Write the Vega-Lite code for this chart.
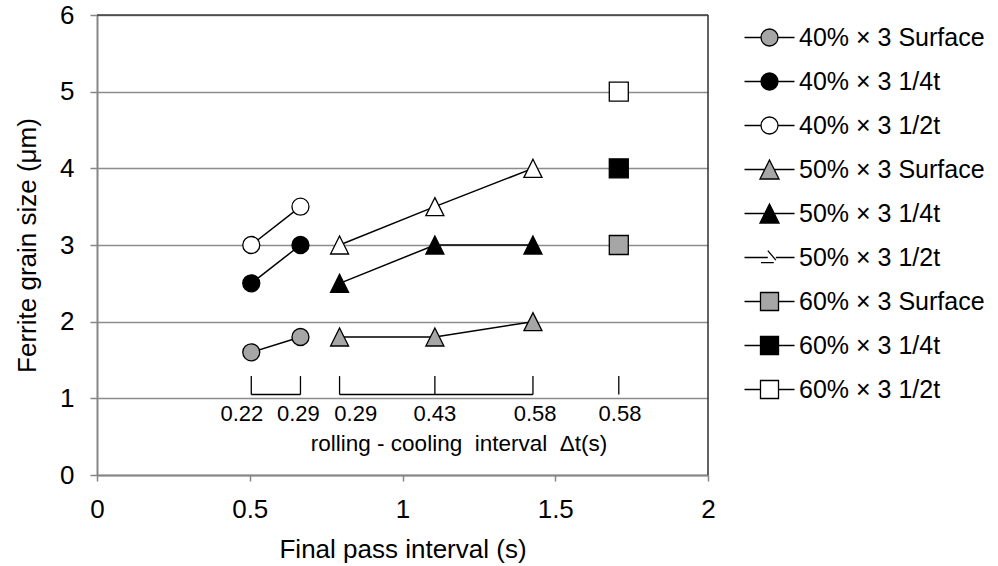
{
  "$schema": "https://vega.github.io/schema/vega-lite/v6.json",
  "width": 611,
  "height": 460,
  "autosize": {"type": "none"},
  "padding": {"left": 97, "top": 15, "right": 290, "bottom": 91},
  "background": "white",
  "config": {
    "font": "Liberation Sans",
    "view": {"stroke": null},
    "text": {"font": "Liberation Sans", "color": "black"}
  },
  "datasets": {
    "grain": [
      {"series": "40% × 3 Surface", "reduction": "40%", "position": "Surface", "interval": 0.505, "size": 1.6},
      {"series": "40% × 3 Surface", "reduction": "40%", "position": "Surface", "interval": 0.666, "size": 1.8},
      {"series": "40% × 3 1/4t", "reduction": "40%", "position": "1/4t", "interval": 0.505, "size": 2.5},
      {"series": "40% × 3 1/4t", "reduction": "40%", "position": "1/4t", "interval": 0.666, "size": 3.0},
      {"series": "40% × 3 1/2t", "reduction": "40%", "position": "1/2t", "interval": 0.505, "size": 3.0},
      {"series": "40% × 3 1/2t", "reduction": "40%", "position": "1/2t", "interval": 0.666, "size": 3.5},
      {"series": "50% × 3 Surface", "reduction": "50%", "position": "Surface", "interval": 0.794, "size": 1.8},
      {"series": "50% × 3 Surface", "reduction": "50%", "position": "Surface", "interval": 1.106, "size": 1.8},
      {"series": "50% × 3 Surface", "reduction": "50%", "position": "Surface", "interval": 1.427, "size": 2.0},
      {"series": "50% × 3 1/4t", "reduction": "50%", "position": "1/4t", "interval": 0.794, "size": 2.5},
      {"series": "50% × 3 1/4t", "reduction": "50%", "position": "1/4t", "interval": 1.106, "size": 3.0},
      {"series": "50% × 3 1/4t", "reduction": "50%", "position": "1/4t", "interval": 1.427, "size": 3.0},
      {"series": "50% × 3 1/2t", "reduction": "50%", "position": "1/2t", "interval": 0.794, "size": 3.0},
      {"series": "50% × 3 1/2t", "reduction": "50%", "position": "1/2t", "interval": 1.106, "size": 3.5},
      {"series": "50% × 3 1/2t", "reduction": "50%", "position": "1/2t", "interval": 1.427, "size": 4.0},
      {"series": "60% × 3 Surface", "reduction": "60%", "position": "Surface", "interval": 1.708, "size": 3.0},
      {"series": "60% × 3 1/4t", "reduction": "60%", "position": "1/4t", "interval": 1.708, "size": 4.0},
      {"series": "60% × 3 1/2t", "reduction": "60%", "position": "1/2t", "interval": 1.708, "size": 5.0}
    ],
    "cooling": [
      {"interval": 0.505, "dt": "0.22", "labelAt": 0.474},
      {"interval": 0.666, "dt": "0.29", "labelAt": 0.659},
      {"interval": 0.794, "dt": "0.29", "labelAt": 0.847},
      {"interval": 1.106, "dt": "0.43", "labelAt": 1.106},
      {"interval": 1.427, "dt": "0.58", "labelAt": 1.434},
      {"interval": 1.708, "dt": "0.58", "labelAt": 1.712}
    ],
    "spans": [
      {"from": 0.505, "to": 0.666},
      {"from": 0.794, "to": 1.427}
    ]
  },
  "resolve": {"scale": {"fill": "independent", "shape": "independent", "size": "independent"}},
  "layer": [
    {
      "data": {"name": "grain"},
      "mark": {"type": "line", "color": "black", "strokeWidth": 1.5},
      "encoding": {
        "x": {
          "field": "interval", "type": "quantitative",
          "scale": {"domain": [0, 2], "nice": false, "zero": false},
          "axis": {
            "title": "Final pass interval (s)",
            "values": [0, 0.5, 1, 1.5, 2], "format": "~g",
            "grid": false, "labelFlush": false, "labelOverlap": false,
            "domainColor": "#868686", "domainWidth": 2,
            "tickColor": "#868686", "tickWidth": 1.5, "tickSize": 6,
            "labelFontSize": 26, "labelColor": "black", "labelFont": "Liberation Sans",
            "labelPadding": 36, "labelBaseline": "alphabetic",
            "titleFontSize": 26, "titleFontWeight": "normal", "titleColor": "black", "titleFont": "Liberation Sans",
            "titleY": 82, "titleBaseline": "alphabetic"
          }
        },
        "y": {
          "field": "size", "type": "quantitative",
          "scale": {"domain": [0, 6], "nice": false},
          "axis": {
            "title": "Ferrite grain size (μm)",
            "values": [0, 1, 2, 3, 4, 5, 6], "format": "~g",
            "grid": true, "gridColor": "#8c8c8c", "gridWidth": 1.5,
            "labelFlush": false, "labelOverlap": false,
            "domainColor": "#868686", "domainWidth": 2,
            "tickColor": "#868686", "tickWidth": 1.5, "tickSize": 7,
            "labelFontSize": 26, "labelColor": "black", "labelFont": "Liberation Sans",
            "labelPadding": 16,
            "titleFontSize": 26, "titleFontWeight": "normal", "titleColor": "black", "titleFont": "Liberation Sans",
            "titleX": -62, "titleY": 230, "titleAngle": -90, "titleBaseline": "alphabetic"
          }
        },
        "detail": {"field": "series"}
      }
    },
    {
      "data": {"name": "cooling"},
      "mark": {"type": "rule", "color": "black", "strokeWidth": 1.3},
      "encoding": {
        "x": {"field": "interval", "type": "quantitative"},
        "y": {"datum": 1.05},
        "y2": {"datum": 1.29}
      }
    },
    {
      "data": {"name": "spans"},
      "mark": {"type": "rule", "color": "black", "strokeWidth": 1.3},
      "encoding": {
        "x": {"field": "from", "type": "quantitative"},
        "x2": {"field": "to"},
        "y": {"datum": 1.05}
      }
    },
    {
      "data": {"name": "cooling"},
      "mark": {"type": "text", "fontSize": 22, "baseline": "alphabetic", "align": "center"},
      "encoding": {
        "x": {"field": "labelAt", "type": "quantitative"},
        "y": {"datum": 0.71},
        "text": {"field": "dt"}
      }
    },
    {
      "data": {"values": [{}]},
      "mark": {"type": "text", "fontSize": 22.5, "baseline": "alphabetic", "align": "center", "text": "rolling - cooling\u00a0 interval\u00a0 Δt(s)"},
      "encoding": {
        "x": {"datum": 1.185},
        "y": {"datum": 0.307}
      }
    },
    {
      "data": {"name": "grain"},
      "mark": {"type": "point", "filled": true, "opacity": 1, "stroke": "black", "strokeWidth": 1.3},
      "encoding": {
        "x": {"field": "interval", "type": "quantitative"},
        "y": {"field": "size", "type": "quantitative"},
        "shape": {
          "field": "reduction", "type": "nominal",
          "scale": {"domain": ["40%", "50%", "60%"], "range": ["circle", "M0,-1L1,1L-1,1Z", "square"]},
          "legend": null
        },
        "size": {
          "field": "reduction", "type": "nominal",
          "scale": {"domain": ["40%", "50%", "60%"], "range": [289, 361, 324]},
          "legend": null
        },
        "fill": {
          "field": "position", "type": "nominal",
          "scale": {"domain": ["Surface", "1/4t", "1/2t"], "range": ["#a6a6a6", "#000000", "#ffffff"]},
          "legend": null
        }
      }
    },
    {
      "data": {"name": "grain"},
      "mark": {"type": "point", "filled": true, "size": 0, "stroke": "black", "strokeWidth": 1.3},
      "encoding": {
        "x": {"field": "interval", "type": "quantitative"},
        "y": {"field": "size", "type": "quantitative"},
        "fill": {
          "field": "series", "type": "nominal",
          "scale": {
            "domain": ["40% × 3 Surface", "40% × 3 1/4t", "40% × 3 1/2t", "50% × 3 Surface", "50% × 3 1/4t", "50% × 3 1/2t", "60% × 3 Surface", "60% × 3 1/4t", "60% × 3 1/2t"],
            "range": ["#a6a6a6", "#000000", "#ffffff", "#a6a6a6", "#000000", "#ffffff", "#a6a6a6", "#000000", "#ffffff"]
          },
          "legend": {
            "title": null, "orient": "none", "legendX": 660, "legendY": 10, "direction": "vertical",
            "labelFontSize": 25, "labelFont": "Liberation Sans", "labelColor": "black", "labelLimit": 400,
            "symbolSize": 289, "symbolStrokeColor": "black", "symbolStrokeWidth": 1.3, "symbolOpacity": 1,
            "rowPadding": 18, "labelOffset": 17, "symbolOffset": 0, "padding": 0,
            "encode": {"symbols": {"update": {"stroke": {"value": "black"}, "strokeOpacity": {"value": 1}, "strokeWidth": {"value": 1.3}}}}
          }
        },
        "shape": {
          "field": "series", "type": "nominal",
          "scale": {
            "domain": ["40% × 3 Surface", "40% × 3 1/4t", "40% × 3 1/2t", "50% × 3 Surface", "50% × 3 1/4t", "50% × 3 1/2t", "60% × 3 Surface", "60% × 3 1/4t", "60% × 3 1/2t"],
            "range": [
              "M-2.94,0H-1M1,0H2.94M-1,0A1,1 0 1,1 1,0A1,1 0 1,1 -1,0Z",
              "M-2.94,0H-1M1,0H2.94M-1,0A1,1 0 1,1 1,0A1,1 0 1,1 -1,0Z",
              "M-2.94,0H-1M1,0H2.94M-1,0A1,1 0 1,1 1,0A1,1 0 1,1 -1,0Z",
              "M-2.94,0H-0.56M0.56,0H2.94M0,-1.12L1.12,1.12L-1.12,1.12Z",
              "M-2.94,0H-0.56M0.56,0H2.94M0,-1.12L1.12,1.12L-1.12,1.12Z",
              "M-2.94,0H-0.2M-0.2,-0.8L0.75,0.3M-1,0.6H0.5M0.75,0H2.94",
              "M-2.94,0H-1.06M1.06,0H2.94M-1.06,-1.06H1.06V1.06H-1.06Z",
              "M-2.94,0H-1.06M1.06,0H2.94M-1.06,-1.06H1.06V1.06H-1.06Z",
              "M-2.94,0H-1.06M1.06,0H2.94M-1.06,-1.06H1.06V1.06H-1.06Z"
            ]
          },
          "legend": {
            "title": null, "orient": "none", "legendX": 660, "legendY": 10, "direction": "vertical",
            "labelFontSize": 25, "labelFont": "Liberation Sans", "labelColor": "black", "labelLimit": 400,
            "symbolSize": 289, "symbolStrokeColor": "black", "symbolStrokeWidth": 1.3, "symbolOpacity": 1,
            "rowPadding": 18, "labelOffset": 17, "symbolOffset": 0, "padding": 0,
            "encode": {"symbols": {"update": {"stroke": {"value": "black"}, "strokeOpacity": {"value": 1}, "strokeWidth": {"value": 1.3}}}}
          }
        }
      }
    },
    {
      "data": {"values": [{}]},
      "mark": {"type": "rule", "color": "#3c3c3c", "strokeWidth": 1.6},
      "encoding": {"y": {"datum": 6}}
    },
    {
      "data": {"values": [{}]},
      "mark": {"type": "rule", "color": "#3c3c3c", "strokeWidth": 1.6},
      "encoding": {"x": {"datum": 2}}
    }
  ]
}
